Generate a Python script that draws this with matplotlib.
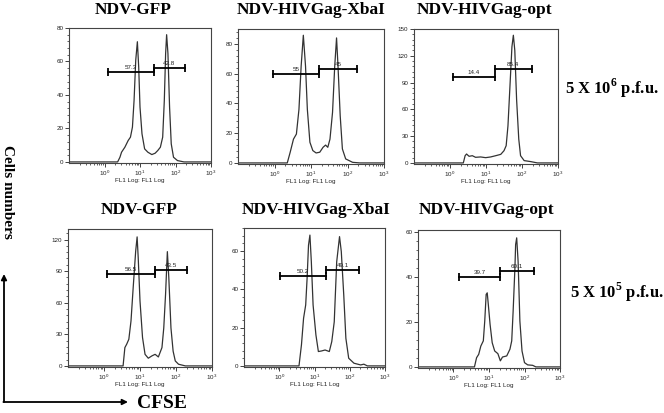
import numpy as np
import matplotlib.pyplot as plt
from matplotlib.patches import FancyArrowPatch
from matplotlib.ticker import MultipleLocator, AutoMinorLocator, LogLocator, NullFormatter

plt.rcParams['font.family'] = 'Liberation Sans'
plt.rcParams['mathtext.fontset'] = 'custom'
plt.rcParams['mathtext.bf'] = 'Liberation Serif:bold'

# histogram traces: x = FL1 position in decades (log10), y = cell counts
# top row, 5 X 10^6 p.f.u.
gfp6_x = [-1, 0.37, 0.435, 0.48, 0.574, 0.667, 0.731, 0.787, 0.833, 0.88, 0.926, 0.963, 1.0, 1.056,
          1.13, 1.222, 1.333, 1.426, 1.5, 1.574, 1.639, 1.685, 1.722, 1.75, 1.787, 1.833, 1.88,
          1.944, 2.056, 2.24, 3]
gfp6_y = [0, 0, 2.8, 5.8, 8.8, 12.8, 14.8, 20.8, 36.8, 60.8, 71.8, 56.8, 32.8, 16.8,
          7.8, 5.8, 4.4, 5.2, 6.8, 8.8, 14.8, 36.8, 64.8, 76, 64.8, 32.8, 10.8,
          2.8, 0.8, 0, 0]
xba6_x = [-1, 0.35, 0.43, 0.52, 0.6, 0.67, 0.73, 0.79, 0.85, 0.9, 0.97, 1.05, 1.14, 1.24, 1.33,
          1.4, 1.46, 1.52, 1.59, 1.65, 1.7, 1.74, 1.8, 1.86, 1.95, 2.14, 2.34, 3]
xba6_y = [0, 0, 7.2, 16, 19.4, 36, 65, 85.8, 65, 36, 13.9, 8.3, 6.7, 7.2, 10.5,
          12, 10.5, 16, 34, 65, 84, 65, 31.7, 9.4, 2.7, 0.4, 0, 0]
opt6_x = [-1, 0.37, 0.42, 0.46, 0.53, 0.62, 0.71, 0.85, 0.99, 1.13, 1.27, 1.41, 1.5, 1.56, 1.61,
          1.67, 1.72, 1.76, 1.8, 1.85, 1.91, 1.96, 2.06, 2.24, 2.43, 3]
opt6_y = [0, 0, 8.1, 10, 7.4, 8.1, 6.3, 6.7, 5.9, 6.7, 8.1, 9.6, 13.7, 19.3, 41.5,
          89.6, 130, 143, 126, 71, 26.7, 8.1, 2.6, 1.5, 0, 0]

# bottom row, 5 X 10^5 p.f.u.
gfp5_x = [-1, 0.53, 0.58, 0.63, 0.69, 0.75, 0.81, 0.88, 0.92, 0.95, 1.0, 1.07, 1.14, 1.23, 1.33,
          1.42, 1.51, 1.61, 1.66, 1.71, 1.76, 1.8, 1.86, 1.92, 1.98, 2.07, 2.26, 3]
gfp5_y = [0, 0, 17.4, 20.6, 25.3, 42.7, 74, 109, 122.5, 103, 61.7, 27, 11, 7.3, 9.5,
          11, 8.5, 17.4, 36, 68, 108.5, 84, 36, 14, 4.7, 1.6, 0, 0]
xba5_x = [-1, 0.56, 0.63, 0.69, 0.75, 0.79, 0.83, 0.87, 0.91, 0.96, 1.04, 1.11, 1.2, 1.3, 1.42,
          1.49, 1.56, 1.63, 1.71, 1.76, 1.83, 1.89, 1.97, 2.12, 2.31, 2.4, 2.5, 3]
xba5_y = [0, 0, 11, 24.9, 31.8, 45.7, 63, 68.3, 54.4, 31.8, 16.2, 7.5, 7.8, 8.3, 7.5,
          12.7, 23, 54.4, 67.5, 59.7, 37, 14.4, 4, 1.4, 0.5, 0.9, 0, 0]
opt5_x = [-1, 0.59, 0.65, 0.71, 0.77, 0.84, 0.88, 0.92, 0.95, 0.98, 1.03, 1.09, 1.16, 1.25, 1.32,
          1.38, 1.5, 1.59, 1.64, 1.68, 1.73, 1.75, 1.78, 1.82, 1.87, 1.93, 2.0, 2.09, 2.23, 2.32, 3]
opt5_y = [0, 0, 4.1, 5.6, 9.3, 11.6, 20.4, 32.3, 33, 27.9, 19, 10.8, 7.1, 5.9, 2.7,
          4.4, 4.9, 7.9, 11.6, 24.9, 44, 54.5, 57.5, 47, 20.4, 7.1, 1.9, 0.9, 0.7, 0, 0]

# gates: (start, split, end) in decades, bar heights, percentages
gates = [
    ((0.09, 1.40, 2.26), (53.6, 56.0), ('57.3', '42.8')),
    ((-0.05, 1.22, 2.26), (59.7, 63.0), ('55', '45')),
    ((0.07, 1.24, 2.27), (96.3, 105.0), ('14.4', '85.4')),
    ((0.09, 1.42, 2.31), (87.0, 91.0), ('56.5', '43.5')),
    ((0.02, 1.33, 2.27), (47.1, 50.0), ('50.2', '49.1')),
    ((0.15, 1.32, 2.27), (40.0, 42.7), ('39.7', '60.1')),
]

titles = ['NDV-GFP', 'NDV-HIVGag-XbaI', 'NDV-HIVGag-opt'] * 2
doses = [r'5 X 10$^{\mathbf{6}}$ p.f.u.', r'5 X 10$^{\mathbf{5}}$ p.f.u.']
traces = [(gfp6_x, gfp6_y), (xba6_x, xba6_y), (opt6_x, opt6_y),
          (gfp5_x, gfp5_y), (xba5_x, xba5_y), (opt5_x, opt5_y)]
ymax = [80, 90, 150, 130, 72, 61]
ystep = [20, 20, 30, 30, 20, 20]

W, H = 664, 413
# axes boxes in pixels: left, top, right, bottom
boxes = [(69, 28, 211, 163), (238, 29, 384, 164), (414, 29, 558, 164),
         (68, 229, 212, 367), (244, 228, 385, 367), (418, 230, 560, 368)]
title_pos = [(133, 10), (311, 10), (485, 10), (139, 210), (316, 210), (487, 210)]

fig = plt.figure(figsize=(6.64, 4.13), dpi=100)
ink = '#222222'

for i in range(6):
    l, t, r, b = boxes[i]
    ax = fig.add_axes([l / W, 1 - b / H, (r - l) / W, (b - t) / H])
    x, y = traces[i]
    ax.plot(np.power(10.0, x), y, color='#333333', lw=0.9)
    (g0, g1, g2), (h1, h2), (p1, p2) = gates[i]
    for xa, xb, hh, lab in [(g0, g1, h1, p1), (g1, g2, h2, p2)]:
        ax.plot(np.power(10.0, [xa, xb]), [hh, hh], color='black', lw=1.3,
                marker='|', ms=6, mew=1.3)
        ax.annotate(lab, (10 ** ((xa + xb) / 2), hh), xytext=(0, 1.5),
                    textcoords='offset points', ha='center', va='bottom',
                    fontsize=4.5, color=ink)
    ax.set_xscale('log')
    ax.set_xlim(0.1, 1000)
    ax.set_ylim(-ymax[i] * 0.008, ymax[i])
    ax.set_xticks([1, 10, 100, 1000])
    ax.xaxis.set_minor_locator(LogLocator(base=10, subs=np.arange(2, 10), numticks=20))
    ax.xaxis.set_minor_formatter(NullFormatter())
    ax.yaxis.set_major_locator(MultipleLocator(ystep[i]))
    ax.yaxis.set_minor_locator(AutoMinorLocator(5))
    ax.tick_params(which='major', length=3, width=0.6, labelsize=4.5, colors=ink, pad=1)
    ax.tick_params(which='minor', length=1.5, width=0.5, colors=ink)
    ax.tick_params(top=False, right=False, which='both')
    for s in ax.spines.values():
        s.set_linewidth(0.8)
        s.set_color('#444444')
    ax.set_xlabel('FL1 Log: FL1 Log', fontsize=4.5, labelpad=0, color=ink)
    tx, ty = title_pos[i]
    fig.text(tx / W, 1 - ty / H, titles[i], ha='center', va='center',
             fontsize=12.5, fontweight='bold', family='Liberation Serif')

fig.text(565 / W, 1 - 88 / H, doses[0], ha='left', va='center', fontsize=12,
         fontweight='bold', family='Liberation Serif')
fig.text(570 / W, 1 - 292 / H, doses[1], ha='left', va='center', fontsize=12,
         fontweight='bold', family='Liberation Serif')

fig.text(7 / W, 1 - 192 / H, 'Cells numbers', rotation=-90, ha='center', va='center',
         fontsize=11, fontweight='bold', family='Liberation Serif')
fig.text(137 / W, 1 - 403 / H, 'CFSE', ha='left', va='center',
         fontsize=14, fontweight='bold', family='Liberation Serif')

arrow = dict(arrowstyle='-|>', color='black', lw=1.3, mutation_scale=8, shrinkA=0, shrinkB=0,
             transform=fig.transFigure)
fig.patches.append(FancyArrowPatch((4 / W, 1 - 402 / H), (4 / W, 1 - 274 / H), **arrow))
fig.patches.append(FancyArrowPatch((3.4 / W, 1 - 402 / H), (128 / W, 1 - 402 / H), **arrow))

fig.savefig('out.png', dpi=100)
